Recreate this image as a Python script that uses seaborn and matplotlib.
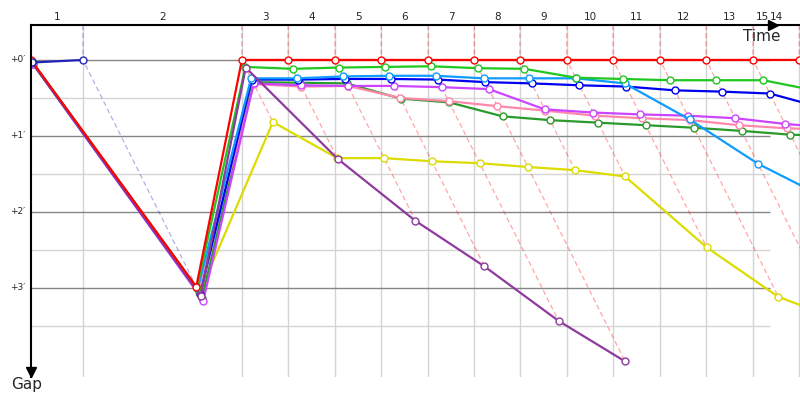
import matplotlib
matplotlib.use('Agg')
import matplotlib.pyplot as plt
import pandas as pd
import seaborn as sns

# ==========================================
# Data: leader race time (s) at each lap end, lap 0 = start
# ==========================================
leader_time = [0, 82, 333, 406, 480, 553, 627, 700, 772, 846, 919, 993, 1066, 1140, 1213]
lap_labels = [str(n) for n in range(1, 16)]

# gap to the leader (s) for every lap, starting at lap 0
gap_navy = [2, 0]
gap_red = [0, 179, 0, 0, 0, 0, 0, 0, 0, 0, 0, 0, 0, 0, 0]
gap_green = [1, 180, 5.5, 7, 6, 5.5, 5, 6.5, 7, 14, 15, 16, 16, 16, 24]
gap_lightblue = [2, 181, 14.5, 14.5, 13, 12.5, 12.5, 14.5, 14.5, 14.5, 18.5, 47, 82, 107]
gap_blue = [2, 185, 15.5, 15.5, 15, 15, 15.5, 17.5, 18.5, 20, 21, 24, 25, 26.5, 38]
gap_violet = [3, 190, 18.5, 20, 20.5, 20.5, 21.5, 23, 39, 41.5, 43, 44, 46, 50.5, 53.5]
gap_pink = [3, 182, 19, 21, 20.5, 30, 32.5, 36.5, 40, 44, 46, 47.5, 51.5, 54, 55]
gap_darkgreen = [3, 188, 17.5, 18, 18.5, 30.5, 33.5, 44.5, 47.5, 49.5, 51.5, 53.5, 56, 59, 60]
gap_yellow = [3, 184, 49, 77.5, 77.5, 80, 81.5, 84.5, 87, 92, 148, 187, 204]
gap_purple = [2, 186, 6, 78, 127, 163, 206, 238]

gap_ticks = [0, 60, 120, 180]
gap_tick_labels = ["+0\u2032", "+1\u2032", "+2\u2032", "+3\u2032"]

series = {
    'yellow': gap_yellow, 'darkgreen': gap_darkgreen, 'pink': gap_pink,
    'violet': gap_violet, 'blue': gap_blue, 'lightblue': gap_lightblue,
    'green': gap_green, 'purple': gap_purple, 'red': gap_red, 'navy': gap_navy,
}
colors = {
    'navy': '#2323b5', 'red': '#ff0000', 'green': '#1ec81e', 'lightblue': '#0f9bff',
    'blue': '#0000f0', 'violet': '#cc44ff', 'pink': '#ff88aa', 'darkgreen': '#2a9a2a',
    'yellow': '#dcdc00', 'purple': '#8e3a9e',
}

# long table: x = the car's own crossing time = leader time + gap
rows = []
for car, gaps in series.items():
    for lap, g in enumerate(gaps):
        rows.append({'car': car, 'lap': lap, 'gap': g, 'time': leader_time[lap] + g})
df = pd.DataFrame(rows)

# ==========================================
# Figure
# ==========================================
sns.set_theme(style='white')
plt.rcParams['font.family'] = ['DejaVu Sans']

fig = plt.figure(figsize=(8, 4), dpi=100)
ax = fig.add_axes([31 / 800, 23 / 400, 769 / 800, 352 / 400])
x_max = 1214.2
y_top, y_bottom = -27.6, 250.3
ax.set_xlim(0, x_max)
ax.set_ylim(y_bottom, y_top)

# grid
grid_end = 1167
for g in [30, 90, 150, 210]:
    ax.hlines(g, 0, grid_end, color='#d4d4d4', lw=1, zorder=0)
for g in gap_ticks:
    ax.hlines(g, 0, grid_end, color='#858585', lw=1, zorder=0.5)
ax.vlines(leader_time[1:], y_top, y_bottom, color='#d4d4d4', lw=1, zorder=0)

# lap lines: vertical above +0, then diagonal down to the slowest car of that lap
for lap in range(1, len(leader_time)):
    t = leader_time[lap]
    lap_gaps = df[df['lap'] == lap]
    g_max = lap_gaps['gap'].max()
    leader = lap_gaps.loc[lap_gaps['gap'].idxmin(), 'car']
    ax.plot([t, t, t + g_max], [y_top, 0, g_max], color=colors[leader], alpha=0.35,
            lw=0.9, ls=(0, (4, 2.5)), zorder=1)

# cars
for car in series:
    d = df[df['car'] == car]
    c = colors[car]
    sns.lineplot(data=d, x='time', y='gap', color=c, lw=1.6, marker='o', ms=5,
                 mfc='white', mec=c, mew=1.0, sort=False, errorbar=None, ax=ax, zorder=3)

ax.set_xlabel('')
ax.set_ylabel('')
ax.set_xticks([])
ax.set_yticks([])

# axes as arrows
for side in ['right', 'bottom']:
    ax.spines[side].set_visible(False)
for side in ['top', 'left']:
    ax.spines[side].set_color('black')
    ax.spines[side].set_linewidth(1.5)
    ax.spines[side].set_zorder(5)
ax.plot([1172], [y_top], marker='>', ms=7, color='black', clip_on=False, zorder=6)
ax.plot([0], [y_bottom - 4], marker='v', ms=7, color='black', clip_on=False, zorder=6)

# lap labels along the top
for n, label in enumerate(lap_labels, start=1):
    if n < len(leader_time):
        xc = (leader_time[n - 1] + leader_time[n]) / 2
    else:
        xc = x_max - 60
    ax.text(xc, -34, label, ha='center', va='center', fontsize=7.5, clip_on=False)

# gap labels
for g, label in zip(gap_ticks, gap_tick_labels):
    ax.text(-9, g, label, ha='right', va='center', fontsize=6.5, clip_on=False)

ax.text(1124, -15, 'Time', ha='left', va='baseline', fontsize=11, zorder=6)
ax.text(-32, 259.5, 'Gap', ha='left', va='baseline', fontsize=11, clip_on=False)

fig.savefig('out.png', dpi=100)
